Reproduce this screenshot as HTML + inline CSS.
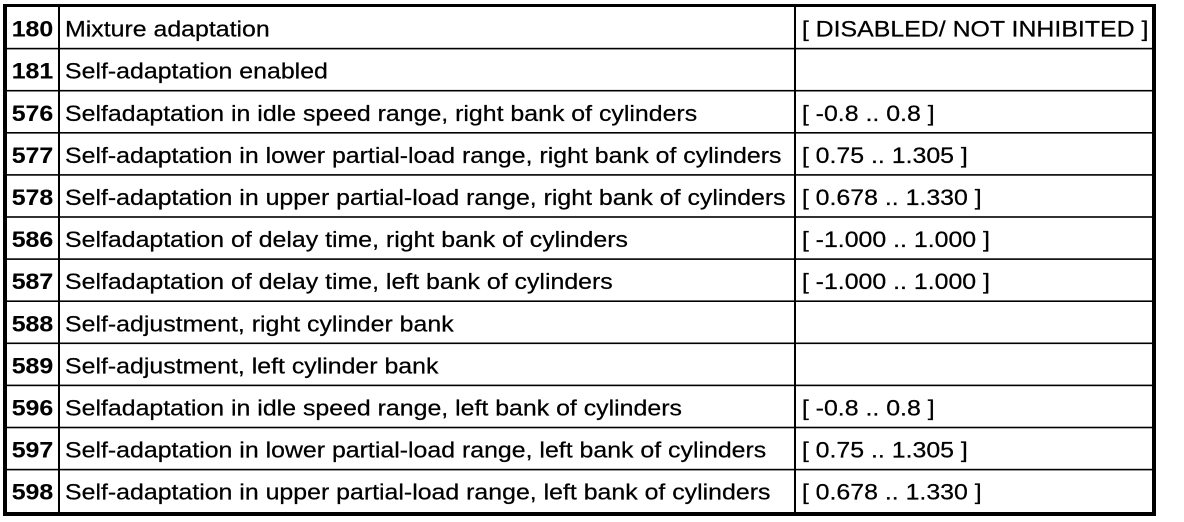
<!DOCTYPE html>
<html><head><meta charset="utf-8"><style>
html,body{margin:0;padding:0;background:#fff;}
svg{display:block;}
text{font-family:"Liberation Sans",Arial,sans-serif;font-size:22.5px;fill:#000;stroke:#000;stroke-width:0.25;}
.n{font-weight:bold;stroke-width:0.1;}
</style></head><body>
<svg width="1184" height="522" viewBox="0 0 1184 522" xmlns="http://www.w3.org/2000/svg">
<rect x="0" y="0" width="1184" height="522" fill="#fff"/>
<g fill="#000">
<rect x="5" y="47.8" width="1149" height="1.6"/>
<rect x="5" y="89.9" width="1149" height="1.6"/>
<rect x="5" y="132.0" width="1149" height="1.6"/>
<rect x="5" y="174.1" width="1149" height="1.6"/>
<rect x="5" y="216.2" width="1149" height="1.6"/>
<rect x="5" y="258.3" width="1149" height="1.6"/>
<rect x="5" y="300.4" width="1149" height="1.6"/>
<rect x="5" y="342.5" width="1149" height="1.6"/>
<rect x="5" y="384.6" width="1149" height="1.6"/>
<rect x="5" y="426.7" width="1149" height="1.6"/>
<rect x="5" y="468.8" width="1149" height="1.6"/>
<rect x="58" y="5" width="2" height="510"/>
<rect x="794" y="5" width="2" height="510"/>
<rect x="3" y="4" width="1153" height="3"/>
<rect x="3" y="512" width="1153" height="4"/>
<rect x="3" y="4" width="4" height="512"/>
<rect x="1152" y="4" width="4" height="512"/>
</g>
<g transform="scale(1.106,1)">
<text class="n" x="10.6" y="36.6">180</text>
<text x="58.8" y="36.6">Mixture adaptation</text>
<text x="725.0" y="36.6">[ DISABLED/ NOT INHIBITED ]</text>

<text class="n" x="10.6" y="78.7">181</text>
<text x="58.8" y="78.7">Self-adaptation enabled</text>

<text class="n" x="10.6" y="120.8">576</text>
<text x="58.8" y="120.8">Selfadaptation in idle speed range, right bank of cylinders</text>
<text x="725.0" y="120.8">[ -0.8 .. 0.8 ]</text>

<text class="n" x="10.6" y="162.9">577</text>
<text x="58.8" y="162.9">Self-adaptation in lower partial-load range, right bank of cylinders</text>
<text x="725.0" y="162.9">[ 0.75 .. 1.305 ]</text>

<text class="n" x="10.6" y="205.0">578</text>
<text x="58.8" y="205.0">Self-adaptation in upper partial-load range, right bank of cylinders</text>
<text x="725.0" y="205.0">[ 0.678 .. 1.330 ]</text>

<text class="n" x="10.6" y="247.1">586</text>
<text x="58.8" y="247.1">Selfadaptation of delay time, right bank of cylinders</text>
<text x="725.0" y="247.1">[ -1.000 .. 1.000 ]</text>

<text class="n" x="10.6" y="289.2">587</text>
<text x="58.8" y="289.2">Selfadaptation of delay time, left bank of cylinders</text>
<text x="725.0" y="289.2">[ -1.000 .. 1.000 ]</text>

<text class="n" x="10.6" y="331.3">588</text>
<text x="58.8" y="331.3">Self-adjustment, right cylinder bank</text>

<text class="n" x="10.6" y="373.4">589</text>
<text x="58.8" y="373.4">Self-adjustment, left cylinder bank</text>

<text class="n" x="10.6" y="415.5">596</text>
<text x="58.8" y="415.5">Selfadaptation in idle speed range, left bank of cylinders</text>
<text x="725.0" y="415.5">[ -0.8 .. 0.8 ]</text>

<text class="n" x="10.6" y="457.6">597</text>
<text x="58.8" y="457.6">Self-adaptation in lower partial-load range, left bank of cylinders</text>
<text x="725.0" y="457.6">[ 0.75 .. 1.305 ]</text>

<text class="n" x="10.6" y="499.7">598</text>
<text x="58.8" y="499.7">Self-adaptation in upper partial-load range, left bank of cylinders</text>
<text x="725.0" y="499.7">[ 0.678 .. 1.330 ]</text>
</g>
</svg>
</body></html>
